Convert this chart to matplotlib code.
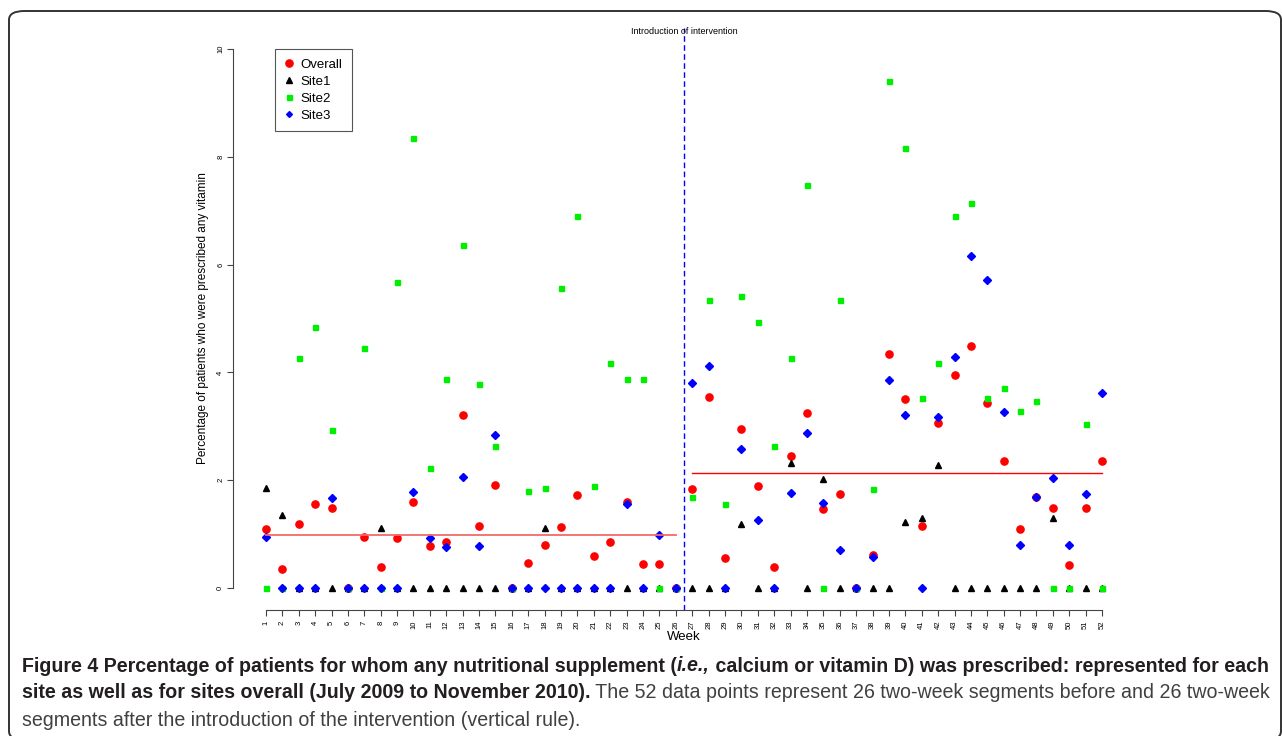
import numpy as np
import matplotlib.pyplot as plt
from matplotlib.lines import Line2D
from matplotlib.patches import FancyBboxPatch

# Données : pourcentage par semaine
weeks = np.arange(1, 53)
overall = [1.09, 0.35, 1.19, 1.55, 1.49, 0, 0.95, 0.39, 0.92, 1.59,
           0.77, 0.85, 3.21, 1.15, 1.91, 0, 0.47, 0.80, 1.14, 1.73,
           0.59, 0.85, 1.60, 0.45, 0.45, 0,
           1.83, 3.55, 0.55, 2.95, 1.90, 0.39, 2.44, 3.25, 1.47, 1.74,
           0, 0.61, 4.34, 3.51, 1.15, 3.06, 3.95, 4.49, 3.43, 2.36,
           1.10, 1.68, 1.48, 0.43, 1.48, 2.36]
site1 = [1.85, 1.36, 0, 0, 0, 0, 0, 1.11, 0, 0,
         0, 0, 0, 0, 0, 0, 0, 1.12, 0, 0,
         0, 0, 0, 0, 0, 0,
         0, 0, 0, 1.18, 0, 0, 2.31, 0, 2.03, 0,
         0, 0, 0, 1.22, 1.29, 2.29, 0, 0, 0, 0,
         0, 0, 1.30, 0, 0, 0]
site2 = [0, 0, 4.27, 4.85, 2.94, 0, 4.45, 0, 5.67, 8.35,
         2.22, 3.87, 6.37, 3.79, 2.64, 0, 1.80, 1.86, 5.57, 6.91,
         1.90, 4.18, 3.87, 3.87, 0, 0,
         1.69, 5.34, 1.55, 5.42, 4.93, 2.64, 4.27, 7.48, 0, 5.34,
         0, 1.83, 9.40, 8.17, 3.52, 4.18, 6.91, 7.15, 3.52, 3.71,
         3.29, 3.46, 0, 0, 3.04, 0]
site3 = [0.94, 0, 0, 0, 1.67, 0, 0, 0, 0, 1.78,
         0.93, 0.76, 2.06, 0.77, 2.84, 0, 0, 0, 0, 0,
         0, 0, 1.56, 0, 0.99, 0,
         3.81, 4.12, 0, 2.57, 1.27, 0, 1.77, 2.87, 1.57, 0.71,
         0, 0.58, 3.86, 3.21, 0, 3.17, 4.28, 6.16, 5.72, 3.27,
         0.80, 1.68, 2.04, 0.80, 1.75, 3.61]
intervention_week = 26.5
y_ticks = [0, 2, 4, 6, 8, 10]

plt.rcParams['font.family'] = ['Liberation Sans', 'DejaVu Sans']

fig = plt.figure(figsize=(12.82, 7.36), dpi=100)
W, H = 1282, 736

# cadre arrondi autour de la figure (le bas sort de l'image)
frame = FancyBboxPatch((9 / W, -4 / H), (1281 - 9) / W, (725 + 4) / H,
                       boxstyle="round,pad=0,rounding_size=0.012",
                       transform=fig.transFigure, fill=False,
                       edgecolor='#333333', linewidth=1.4, clip_on=False)
fig.patches.append(frame)

ax = fig.add_axes([232.5 / W, 1 - 609.5 / H, 903 / W, 582 / H])
ax.set_xlim(-1.04, 54.04)
ax.set_ylim(-0.4, 10.4)

# Tracer les séries
ax.plot(weeks, overall, 'o', color='red', markersize=5.2, linestyle='none')
ax.plot(weeks, site1, '^', color='black', markersize=4.5, linestyle='none')
ax.plot(weeks, site2, 's', color='#00ee00', markersize=3.6, linestyle='none')
ax.plot(weeks, site3, 'D', color='blue', markersize=3.6, linestyle='none')

# moyennes avant / après
before = np.array(overall[:26])
after = np.array(overall[26:])
ax.plot([1, 26], [before.mean()] * 2, color='#f26a6a', lw=1.3)
ax.plot([27, 52], [after.mean()] * 2, color='red', lw=1.0)

ax.axvline(intervention_week, color='blue', ls=(0, (4, 2.5)), lw=1.0)
ax.text(intervention_week, 10.335, 'Introduction of intervention',
        ha='center', va='center', fontsize=6.5)

# axes style R
for s in ['top', 'right']:
    ax.spines[s].set_visible(False)
ax.spines['left'].set_bounds(0, 10)
ax.spines['bottom'].set_bounds(1, 52)
for s in ['left', 'bottom']:
    ax.spines[s].set_linewidth(0.8)
    ax.spines[s].set_color('#444444')
ax.set_yticks(y_ticks)
ax.set_yticklabels([str(v) for v in y_ticks], rotation=90, va='center', fontsize=5.5)
ax.set_xticks(weeks)
ax.set_xticklabels([str(w) for w in weeks], rotation=90, fontsize=5.5)
ax.tick_params(length=4, width=0.8, color='#444444')
ax.tick_params(axis='y', pad=2)
ax.tick_params(axis='x', pad=4)
ax.set_xlabel('Week', fontsize=9.5, labelpad=1)
ax.set_ylabel('Percentage of patients who were prescribed any vitamin', fontsize=8.5, labelpad=6)

handles = [
    Line2D([], [], marker='o', color='red', ls='none', markersize=5.2),
    Line2D([], [], marker='^', color='black', ls='none', markersize=4.5),
    Line2D([], [], marker='s', color='#00ee00', ls='none', markersize=3.6),
    Line2D([], [], marker='D', color='blue', ls='none', markersize=3.0),
]
leg = ax.legend(handles, ['Overall', 'Site1', 'Site2', 'Site3'],
                loc='upper left', bbox_to_anchor=(0.047, 0.9625),
                borderaxespad=0, fontsize=9.5, fancybox=False,
                handlelength=0.8, handletextpad=0.45, labelspacing=0.36,
                borderpad=0.7, framealpha=1)
leg.get_frame().set_edgecolor('#555555')
leg.get_frame().set_linewidth(0.8)

# Légende de la figure (texte en plusieurs morceaux)
dark = '#231f20'
grey = '#404040'
lines = [
    [('Figure 4 Percentage of patients for whom any nutritional supplement (', 'bold', 'normal', dark),
     ('i.e.,', 'bold', 'italic', dark),
     (' calcium or vitamin D) was prescribed: represented for each', 'bold', 'normal', dark)],
    [('site as well as for sites overall (July 2009 to November 2010).', 'bold', 'normal', dark),
     (' The 52 data points represent 26 two-week segments before and 26 two-week', 'normal', 'normal', grey)],
    [('segments after the introduction of the intervention (vertical rule).', 'normal', 'normal', grey)],
]
cap_family = ['Liberation Sans Narrow', 'Liberation Sans']
renderer = fig.canvas.get_renderer()


def run_width(runs, size):
    total = 0
    for s, wgt, sty, col in runs:
        t = fig.text(0, 0, s, fontsize=size, fontweight=wgt, fontstyle=sty,
                     family=cap_family)
        total += t.get_window_extent(renderer).width
        t.remove()
    return total


size = 10.0
size = size * (1274 - 22) / run_width(lines[0], size)
y_px = [666, 693, 720]
for runs, yp in zip(lines, y_px):
    x = 22
    for s, wgt, sty, col in runs:
        t = fig.text(x / W, 1 - yp / H, s, fontsize=size, fontweight=wgt,
                     fontstyle=sty, color=col, va='center', family=cap_family)
        x += t.get_window_extent(renderer).width

fig.savefig('out.png', dpi=100)
